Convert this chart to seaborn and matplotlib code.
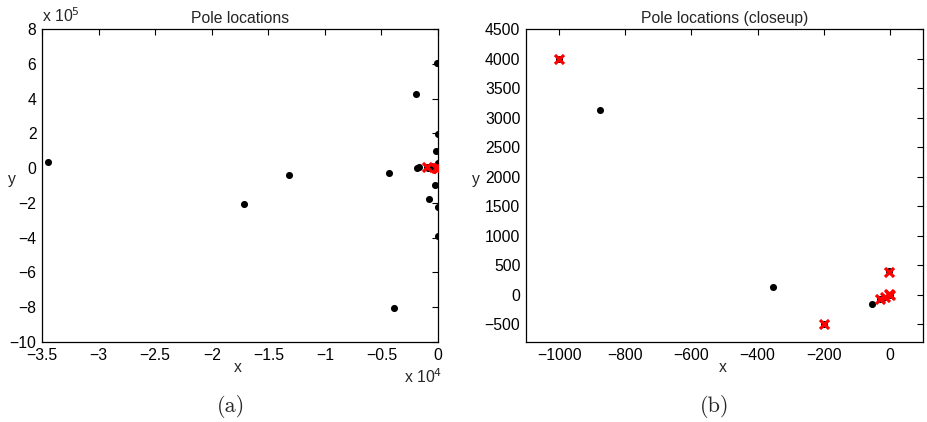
import seaborn as sns
import matplotlib
matplotlib.use("Agg")
import matplotlib.pyplot as plt
import pandas as pd
from matplotlib.ticker import FuncFormatter, MultipleLocator

# estimated poles (black dots)
est_x = [-34500, -17170, -13170, -4330, -3920, -1920, -1900, -1700, -830, -620,
         -300, -200, -120, -30, 0, -30, -30, -875, -352, -53, -3, 0, -20,
         -1000, -200, -30]
est_y = [33000, -206000, -38000, -30000, -803000, 424000, 2000, 5000, -178000, 12000,
         -97000, 100000, 606000, 198000, -224000, -392000, 27000, 3130, 138, -157, 395, 0, -60,
         4000, -500, -75]

# true poles (red crosses)
true_x = [-1000, -200, -3, -30, -15, 0, -2]
true_y = [4000, -500, 390, -75, -45, 0, 20]

FS = 11.3


def scaled_formatter(scale):
    """Tick labels divided by a power of ten, MATLAB style."""
    def fmt(x, pos):
        v = x / scale
        s = f'{v:g}'
        return s.replace('-', '\u2212')
    return FuncFormatter(fmt)


def style_axes(ax, ylab_x):
    ax.tick_params(direction='in', top=True, right=True, length=4.5, width=0.8,
                   labelsize=FS, pad=4, colors='black')
    for sp in ax.spines.values():
        sp.set_visible(True)
        sp.set_color('black')
        sp.set_linewidth(0.9)
    ax.set_xlabel('x', fontsize=FS, va='center')
    ax.set_ylabel('y', fontsize=FS, rotation=0, va='center', ha='center')
    ax.xaxis.set_label_coords(0.495, -0.08)
    ax.yaxis.set_label_coords(ylab_x, 0.52)


def draw_points(ax):
    est = pd.DataFrame({'x': est_x, 'y': est_y})
    true = pd.DataFrame({'x': true_x, 'y': true_y})
    sns.scatterplot(data=est, x='x', y='y', ax=ax, color='black', s=26,
                    edgecolor='black', linewidth=0, zorder=3)
    sns.scatterplot(data=true, x='x', y='y', ax=ax, color='red', marker='x',
                    s=42, linewidth=2.3, zorder=4)


def main():
    sns.set_theme(style='white')
    plt.rcParams['font.family'] = ['Liberation Sans', 'DejaVu Sans']
    plt.rcParams['axes.unicode_minus'] = True

    fig = plt.figure(figsize=(9.28, 4.22), dpi=100)
    ax1 = fig.add_axes([0.0453, 0.1896, 0.4267, 0.7417])
    ax2 = fig.add_axes([0.5668, 0.1896, 0.4278, 0.7417])

    # (a) full view
    draw_points(ax1)
    ax1.set_xlim(-35000, 0)
    ax1.set_ylim(-1e6, 8e5)
    ax1.xaxis.set_major_locator(MultipleLocator(5000))
    ax1.yaxis.set_major_locator(MultipleLocator(2e5))
    ax1.xaxis.set_major_formatter(scaled_formatter(1e4))
    ax1.yaxis.set_major_formatter(scaled_formatter(1e5))
    style_axes(ax1, -0.076)
    ax1.set_title('Pole locations', fontsize=FS, pad=4)
    ax1.text(0.0, 1.012, r'x 10$^{5}$', transform=ax1.transAxes, fontsize=FS,
             ha='left', va='bottom')
    ax1.text(1.01, -0.112, r'x 10$^{4}$', transform=ax1.transAxes, fontsize=FS,
             ha='right', va='center')

    # (b) closeup
    draw_points(ax2)
    ax2.set_xlim(-1100, 100)
    ax2.set_ylim(-800, 4500)
    ax2.xaxis.set_major_locator(MultipleLocator(200))
    ax2.yaxis.set_major_locator(MultipleLocator(500))
    ax2.xaxis.set_major_formatter(scaled_formatter(1))
    ax2.yaxis.set_major_formatter(scaled_formatter(1))
    style_axes(ax2, -0.126)
    ax2.set_title('Pole locations (closeup)', fontsize=FS, pad=4)

    for label, xc in [('(a)', 231 / 928), ('(b)', 715 / 928)]:
        fig.text(xc, 0.036, label, ha='center', va='center', fontsize=16,
                 family=['cmr10', 'DejaVu Serif'])

    fig.savefig('out.png', dpi=100)


if __name__ == "__main__":
    main()
